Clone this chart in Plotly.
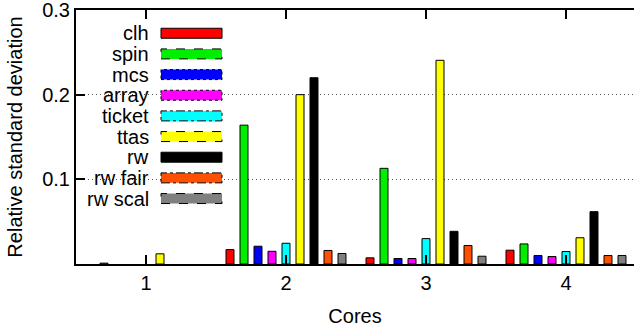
import plotly.graph_objects as go

cores = [1, 2, 3, 4]
series_names = ["clh", "spin", "mcs", "array", "ticket", "ttas", "rw", "rw fair", "rw scal"]
clh = [None, 0.017, 0.0073, 0.0163]
spin = [0.001, 0.164, 0.113, 0.0237]
mcs = [None, 0.021, 0.0065, 0.010]
array = [None, 0.015, 0.0065, 0.0088]
ticket = [None, 0.0245, 0.030, 0.0147]
ttas = [0.012, 0.200, 0.2406, 0.031]
rw = [None, 0.220, 0.0386, 0.0618]
rw_fair = [None, 0.016, 0.0218, 0.010]
rw_scal = [None, 0.0124, 0.0092, 0.010]
y_ticks = [0.1, 0.2, 0.3]
y_tick_labels = ["0.1", "0.2", "0.3"]

values = [clh, spin, mcs, array, ticket, ttas, rw, rw_fair, rw_scal]
colors = ["#ff0000", "#00ee00", "#0000ff", "#ff00ff", "#00ffff", "#ffff00",
          "#000000", "#ff5000", "#808080"]
dashes = ["solid", "dash", "dot", "dot", "dashdot", "dash", "solid", "dashdot", "dash"]

FONT = "Liberation Sans, Arial, sans-serif"
FS = 20

fig = go.Figure()
for name, vals, col in zip(series_names, values, colors):
    fig.add_trace(go.Bar(
        x=cores, y=vals, name=name,
        marker=dict(color=col, line=dict(color="#000000", width=1)),
        showlegend=False,
    ))

L, T, B = 76, 10, 64.5
W, H = 634, 329
pw = W - L
ph = H - T - B

def px_x(x):
    return (x - L) / pw

def px_y(y):
    return (H - B - y) / ph

shapes = [dict(type="rect", xref="paper", yref="paper",
               x0=px_x(L + 1), x1=px_x(233), y0=px_y(208), y1=px_y(T + 1),
               fillcolor="white", line=dict(width=0), layer="between")]
annotations = []
for i, (name, col, d) in enumerate(zip(series_names, colors, dashes)):
    yc = 33.3 + 20.7 * i
    annotations.append(dict(
        x=px_x(151), y=px_y(yc), xref="paper", yref="paper",
        text=name, showarrow=False, xanchor="right", yanchor="middle",
        font=dict(family=FONT, size=FS, color="black")))
    shapes.append(dict(
        type="rect", xref="paper", yref="paper",
        x0=px_x(161), x1=px_x(222), y0=px_y(yc + 5), y1=px_y(yc - 5),
        fillcolor=col, line=dict(color="black", width=1, dash=d), layer="above"))

fig.update_layout(
    width=W, height=H,
    margin=dict(l=L, r=0, t=T, b=B),
    paper_bgcolor="white", plot_bgcolor="white",
    barmode="group", bargap=0.1, bargroupgap=0.43,
    font=dict(family=FONT, size=FS, color="black"),
    shapes=shapes, annotations=annotations,
    xaxis=dict(
        range=[0.5, 0.5 + pw / 140.0],
        tickvals=cores, ticktext=[str(c) for c in cores],
        ticks="inside", ticklen=9, tickwidth=1.5, tickcolor="black",
        showline=True, linewidth=2, linecolor="black", mirror="ticks",
        showgrid=False, zeroline=False, automargin=False,
        title=dict(text="Cores", font=dict(family=FONT, size=FS), standoff=16),
        tickfont=dict(family=FONT, size=FS), ticklabeloverflow="allow",
    ),
    yaxis=dict(
        range=[0, 0.30001],
        tickvals=y_ticks, ticktext=y_tick_labels,
        ticks="inside", ticklen=9, tickwidth=1.5, tickcolor="black",
        showline=True, linewidth=2, linecolor="black", mirror=False,
        showgrid=True, gridcolor="#555555", gridwidth=1, griddash="1px,3px",
        zeroline=False, automargin=False,
        title=dict(text="Relative standard deviation", font=dict(family=FONT, size=FS), standoff=14),
        tickfont=dict(family=FONT, size=FS), ticklabeloverflow="allow",
    ),
)

fig.write_html("out.html", config={"displayModeBar": False},
               post_script="document.body.style.margin='0';document.body.style.overflow='hidden';")
